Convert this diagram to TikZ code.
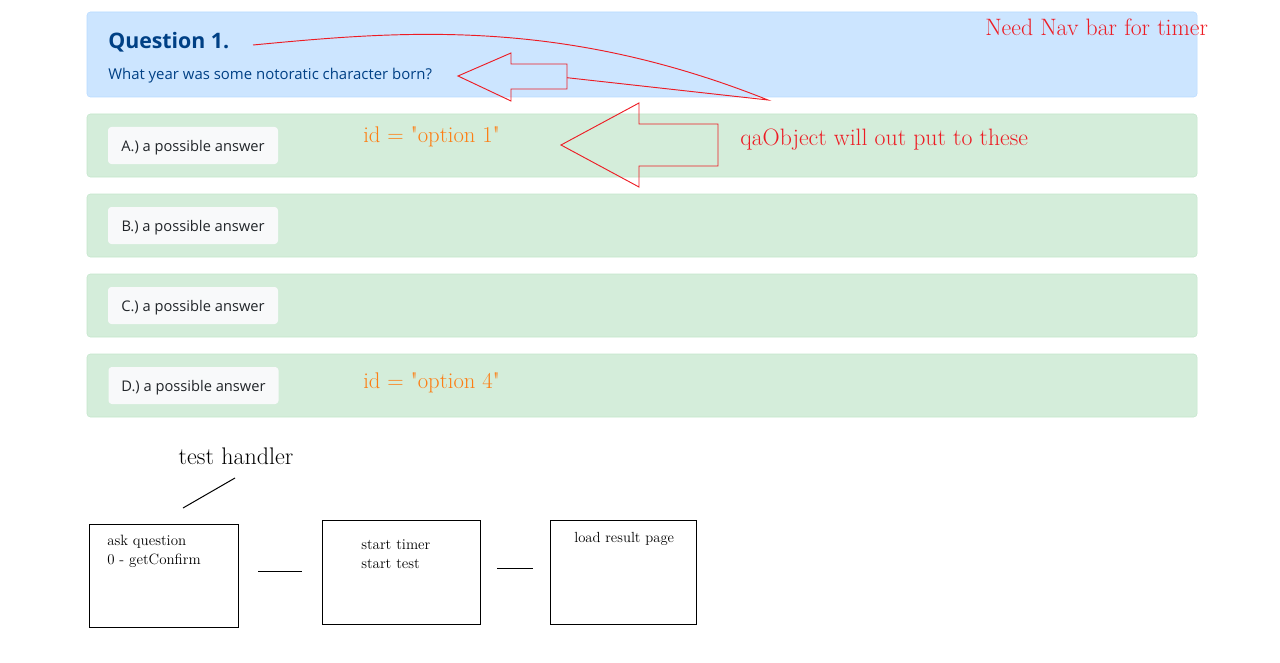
\documentclass[tikz,border=0pt]{standalone}
\usepackage{fontspec}
\newfontfamily\uifont{Open Sans}

\definecolor{qfill}{RGB}{204,229,255}
\definecolor{qline}{RGB}{184,218,255}
\definecolor{qtext}{RGB}{0,64,133}
\definecolor{afill}{RGB}{212,237,218}
\definecolor{aline}{RGB}{195,230,203}
\definecolor{bfill}{RGB}{248,249,250}
\definecolor{btext}{RGB}{33,37,41}
\definecolor{note}{RGB}{237,28,36}
\definecolor{idtext}{RGB}{253,126,20}

\tikzset{
  qpanel/.style={draw=qline, fill=qfill, rounded corners=2.5pt, inner sep=0pt,
    minimum width=832.5pt, minimum height=63.75pt},
  arow/.style={draw=aline, fill=afill, rounded corners=2.5pt, inner sep=0pt,
    minimum width=832.5pt, minimum height=47.25pt},
  abtn/.style={fill=bfill, rounded corners=2.5pt, inner sep=0pt, text depth=0pt,
    minimum width=127.5pt, minimum height=27.75pt, text=btext,
    font=\uifont\fontsize{11}{12}\selectfont},
  noteline/.style={draw=note, line width=0.7pt},
  notetext/.style={text=note, anchor=west, inner sep=0pt, font=\fontsize{17.8}{20}\selectfont},
  idlabel/.style={text=idtext, anchor=west, inner sep=0pt, font=\fontsize{17}{20}\selectfont},
  flowbox/.style={draw, line width=0.75pt, inner sep=0pt},
  flowtext/.style={anchor=north west, inner sep=0pt, align=left,
    font=\fontsize{11.2}{14.25}\selectfont}
}

\begin{document}
\begin{tikzpicture}[x=0.75pt,y=-0.75pt]
  \useasboundingbox (0,0) rectangle (1280,663);

  % question panel
  \node[qpanel] (panel) at (642,54.5) {};
  \node[anchor=west, inner sep=0pt, text=qtext, font=\uifont\bfseries\fontsize{16}{18}\selectfont] (qtitle) at (108,42) {Question 1.};
  \node[anchor=west, inner sep=0pt, text=qtext, font=\uifont\fontsize{11.2}{12}\selectfont] (qbody) at (108,75.5) {What year was some notoratic character born?};

  % answer rows
  \node[arow] (rowA) at (642,145.5) {};
  \node[arow] (rowB) at (642,225.5) {};
  \node[arow] (rowC) at (642,305.5) {};
  \node[arow] (rowD) at (642,385.5) {};
  \node[abtn] (btnA) at (193,145.5) {A.) a possible answer};
  \node[abtn] (btnB) at (193,225.5) {B.) a possible answer};
  \node[abtn] (btnC) at (193,305.5) {C.) a possible answer};
  \node[abtn] (btnD) at (193.5,385.5) {D.) a possible answer};
  \node[idlabel] (idA) at (363,137) {id = \textquotedbl option 1\textquotedbl};
  \node[idlabel] (idD) at (363,383) {id = \textquotedbl option 4\textquotedbl};

  % red notes
  \node[notetext] (navnote) at (985,27) {Need Nav bar for timer};
  \node[notetext] (qanote) at (740,140) {qaObject will out put to these};
  \coordinate (curvestart) at (253,45);
  \coordinate (curveend) at (768,100);
  \coordinate (tailA) at (567,77.7);
  \draw[noteline] (curvestart) .. controls (400,31) and (560,17) .. (curveend) -- (tailA);
  \draw[noteline] (458,76) -- (511,53) -- (511,64) -- (567,64) -- (567,89) -- (511,89) -- (511,101) -- cycle;
  \draw[noteline] (561,145) -- (639,103) -- (639,124) -- (718,124) -- (718,166) -- (639,166) -- (639,187) -- cycle;

  % flow at the bottom
  \node[inner sep=0pt, font=\fontsize{18}{20}\selectfont] (handler) at (236,456) {test handler};
  \coordinate (handlerA) at (235,478);
  \coordinate (handlerB) at (183,508);
  \draw[line width=0.75pt] (handlerA) -- (handlerB);

  \node[flowbox, minimum width=111.75pt, minimum height=77.25pt] (ask) at (163.5,575.5) {};
  \node[flowbox, minimum width=118.5pt, minimum height=78pt] (timer) at (401,572) {};
  \node[flowbox, minimum width=109.5pt, minimum height=78pt] (result) at (623,572) {};
  \node[flowtext] (askt) at (107,535) {ask question\\0 - getConfirm};
  \node[flowtext] (timert) at (361,539) {start timer\\start test};
  \node[flowtext, font=\fontsize{11}{14.25}\selectfont] (resultt) at (574,532) {load result page};

  \coordinate (linkAa) at (258,571);
  \coordinate (linkAb) at (302,571);
  \coordinate (linkBa) at (497,568);
  \coordinate (linkBb) at (533,568);
  \draw[line width=0.75pt] (linkAa) -- (linkAb);
  \draw[line width=0.75pt] (linkBa) -- (linkBb);
\end{tikzpicture}
\end{document}
